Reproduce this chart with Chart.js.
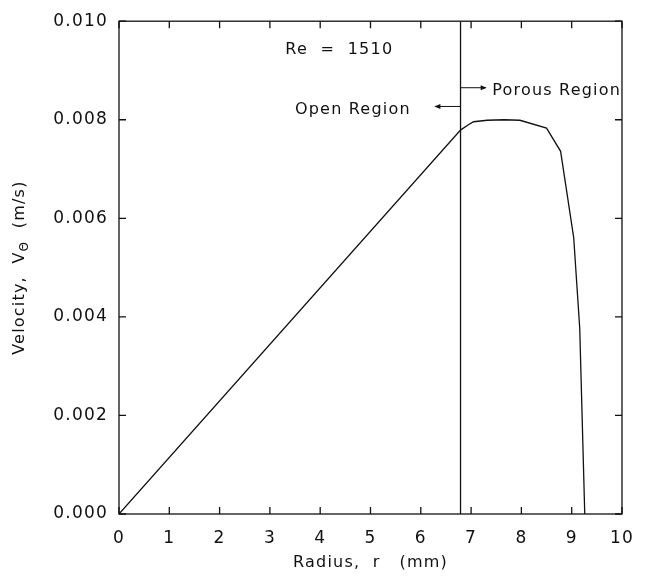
<!DOCTYPE html>
<html>
<head>
<meta charset="utf-8">
<script src="https://cdn.jsdelivr.net/npm/chart.js@4.4.1/dist/chart.umd.min.js"></script>
<style>
  html, body { margin: 0; padding: 0; background: #fff; }
  #chart { display: block; }
</style>
</head>
<body>
<canvas id="chart" width="648" height="586"></canvas>
<script>
// velocity profile
const radius   = [0, 6.79, 6.93, 7.05, 7.32, 7.65, 7.97, 8.50, 8.78, 9.04, 9.16, 9.26];
const velocity = [0, 0.00779, 0.00789, 0.00796, 0.00799, 0.00800, 0.00799, 0.00783, 0.00736, 0.00561, 0.00377, 0];

// open / porous interface
const interfaceRadius = 6.79;
const interfaceSpan = [0, 0.010];

const xTicks = [0, 1, 2, 3, 4, 5, 6, 7, 8, 9, 10];
const yTicks = [0, 0.002, 0.004, 0.006, 0.008, 0.010];

const xTitle = 'Radius,  r   (mm)';
const yTitle = ['Velocity,  V', '\u0398', '  (m/s)'];

// text notes in data coordinates
const notes = [
    { text: 'Re  =  1510', x: 4.38, y: 0.00942, align: 'center' },
    { text: 'Porous Region', x: 7.42, y: 0.00859, align: 'left' },
    { text: 'Open Region', x: 5.80, y: 0.00821, align: 'right' }
];
const arrows = [
    { from: 6.79, to: 7.29, y: 0.00865 },
    { from: 6.79, to: 6.29, y: 0.00827 }
];

const FONT = '"DejaVu Sans", sans-serif';
const SPACING = '1.2px';
const INK = '#111';

Chart.defaults.font.family = FONT;
Chart.defaults.font.size = 17;
Chart.defaults.color = INK;

const spacingPlugin = {
    id: 'spacing',
    beforeUpdate(chart) { chart.ctx.letterSpacing = SPACING; },
    beforeDraw(chart) { chart.ctx.letterSpacing = SPACING; }
};

const framePlugin = {
    id: 'frame',
    afterDraw(chart) {
        const { ctx, chartArea: a, scales: { x, y } } = chart;
        ctx.save();
        ctx.letterSpacing = SPACING;
        ctx.strokeStyle = INK;
        ctx.fillStyle = INK;
        ctx.lineWidth = 1.3;
        ctx.strokeRect(a.left, a.top, a.width, a.height);

        // inward ticks on all four sides
        const len = 7;
        ctx.beginPath();
        xTicks.forEach(v => {
            const px = x.getPixelForValue(v);
            ctx.moveTo(px, a.bottom); ctx.lineTo(px, a.bottom - len);
            ctx.moveTo(px, a.top); ctx.lineTo(px, a.top + len);
        });
        yTicks.forEach(v => {
            const py = y.getPixelForValue(v);
            ctx.moveTo(a.left, py); ctx.lineTo(a.left + len, py);
            ctx.moveTo(a.right, py); ctx.lineTo(a.right - len, py);
        });
        ctx.stroke();

        // notes
        ctx.font = '16px ' + FONT;
        ctx.textBaseline = 'middle';
        notes.forEach(n => {
            ctx.textAlign = n.align;
            ctx.fillText(n.text, x.getPixelForValue(n.x), y.getPixelForValue(n.y));
        });

        // arrows
        ctx.lineWidth = 1;
        arrows.forEach(ar => {
            const x0 = x.getPixelForValue(ar.from);
            const x1 = x.getPixelForValue(ar.to);
            const py = y.getPixelForValue(ar.y);
            const dir = Math.sign(x1 - x0);
            ctx.beginPath();
            ctx.moveTo(x0, py); ctx.lineTo(x1, py);
            ctx.stroke();
            ctx.beginPath();
            ctx.moveTo(x1 + dir * 1, py);
            ctx.lineTo(x1 - dir * 5, py - 2.5);
            ctx.lineTo(x1 - dir * 5, py + 2.5);
            ctx.closePath();
            ctx.fill();
        });

        // x title
        ctx.textAlign = 'center';
        ctx.fillText(xTitle, (a.left + a.right) / 2, 563);

        // y title with subscript
        ctx.translate(20, (a.top + a.bottom) / 2);
        ctx.rotate(-Math.PI / 2);
        const big = '16px ' + FONT, small = '12px ' + FONT;
        ctx.font = big; const w0 = ctx.measureText(yTitle[0]).width;
        ctx.font = small; const w1 = ctx.measureText(yTitle[1]).width;
        ctx.font = big; const w2 = ctx.measureText(yTitle[2]).width;
        let cx = -(w0 + w1 + w2) / 2;
        ctx.textAlign = 'left';
        ctx.font = big; ctx.fillText(yTitle[0], cx, 0); cx += w0;
        ctx.font = small; ctx.fillText(yTitle[1], cx, 5); cx += w1;
        ctx.font = big; ctx.fillText(yTitle[2], cx, 0);
        ctx.restore();
    }
};

new Chart(document.getElementById('chart'), {
    type: 'line',
    data: {
        datasets: [
            {
                data: radius.map((r, i) => ({ x: r, y: velocity[i] })),
                borderColor: INK,
                borderWidth: 1.3,
                pointRadius: 0,
                tension: 0
            },
            {
                data: interfaceSpan.map(v => ({ x: interfaceRadius, y: v })),
                borderColor: INK,
                borderWidth: 1.3,
                pointRadius: 0
            }
        ]
    },
    options: {
        responsive: false,
        animation: false,
        layout: { padding: { top: 17, right: 22, left: 0, bottom: 0 } },
        plugins: { legend: { display: false }, tooltip: { enabled: false } },
        scales: {
            x: {
                type: 'linear', min: 0, max: 10,
                grid: { display: false, drawTicks: false },
                border: { display: false },
                ticks: { stepSize: 1, padding: 14, color: INK, maxRotation: 0 },
                afterFit(s) { s.height = 72; }
            },
            y: {
                type: 'linear', min: 0, max: 0.010,
                grid: { display: false, drawTicks: false },
                border: { display: false },
                ticks: {
                    stepSize: 0.002, padding: 11, color: INK,
                    callback: v => v.toFixed(3)
                },
                afterFit(s) { s.width = 119; }
            }
        }
    },
    plugins: [spacingPlugin, framePlugin]
});
</script>
</body>
</html>
